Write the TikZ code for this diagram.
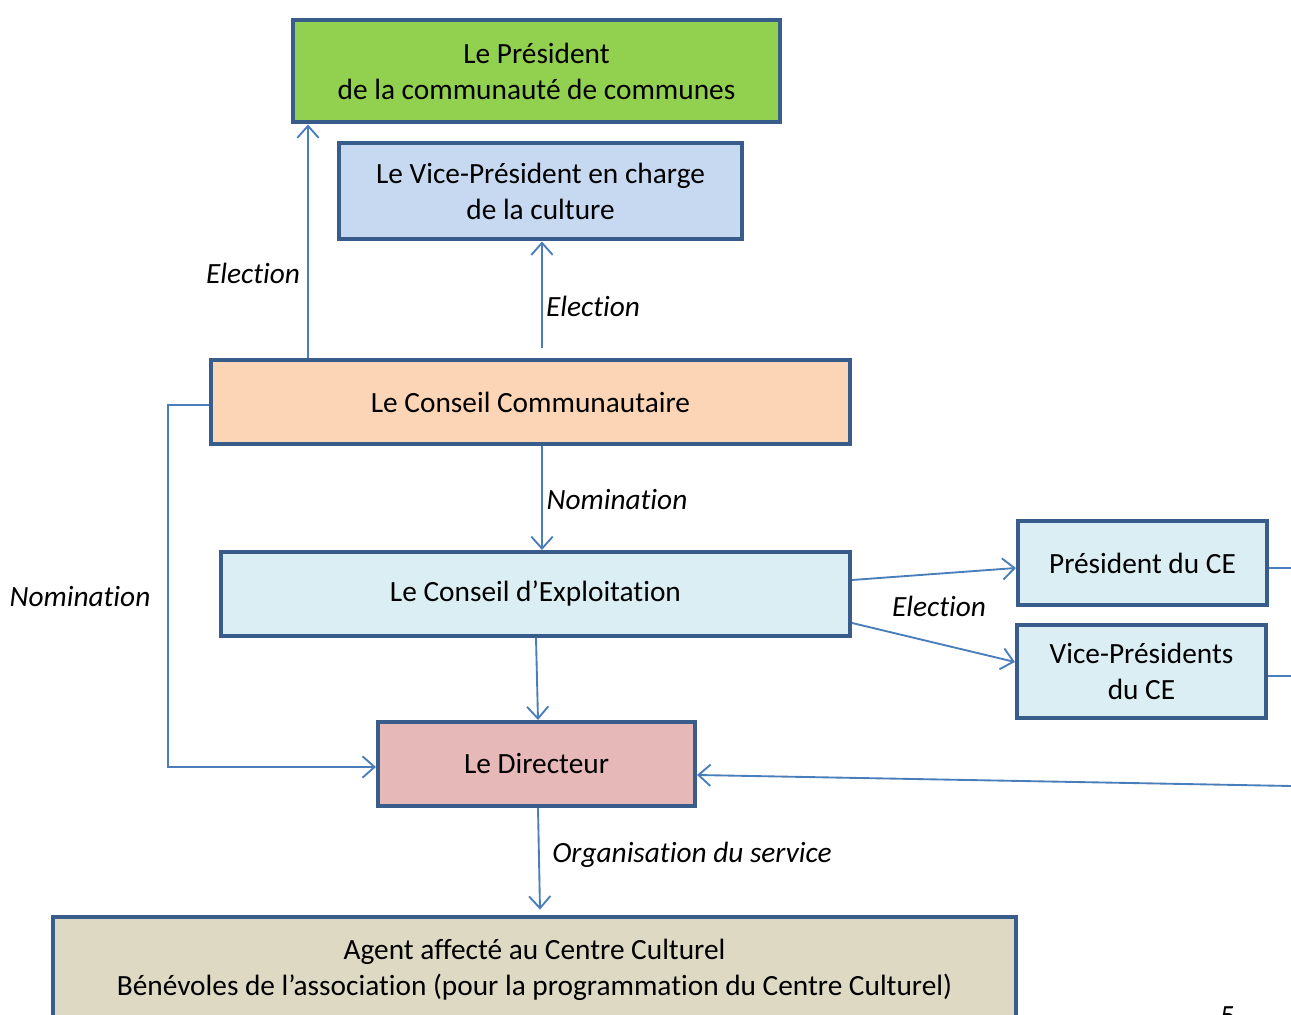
\documentclass[tikz,border=0pt]{standalone}
\usepackage{fontspec}
\setmainfont{Carlito}[Ligatures=NoCommon]
\usetikzlibrary{arrows.meta}

\definecolor{bordure}{HTML}{385D8A}
\definecolor{fleche}{HTML}{4A7EBB}
\definecolor{vert}{HTML}{92D050}
\definecolor{bleuvp}{HTML}{C6D9F1}
\definecolor{saumon}{HTML}{FBD5B5}
\definecolor{bleuce}{HTML}{DAEEF3}
\definecolor{rose}{HTML}{E6B9B8}
\definecolor{beige}{HTML}{DDD9C3}

\tikzstyle{block} = [rectangle, draw=bordure, line width=1.5pt, text centered, inner sep=0pt, align=center, font=\fontsize{11}{13.5}\selectfont]
\tikzstyle{arrow} = [draw=fleche, line width=0.7pt, -{Straight Barb[length=4.5pt, width=8pt]}]
\tikzstyle{line} = [draw=fleche, line width=0.7pt]
\tikzstyle{label} = [font=\fontsize{11}{13.5}\selectfont\itshape, inner sep=0pt]

\begin{document}
\begin{tikzpicture}[x=0.375pt, y=-0.375pt]
    \useasboundingbox (0,0) rectangle (1291,1015);

    \node[block, fill=vert, minimum width=182.6pt, minimum height=38.6pt] (president) at (536.5,71) {Le Président\\de la communauté de communes};
    \node[block, fill=bleuvp, minimum width=151.1pt, minimum height=36pt] (vicepresident) at (540.5,191.5) {Le Vice-Président en charge\\de la culture};
    \node[block, fill=saumon, minimum width=239.6pt, minimum height=31.5pt] (conseilcom) at (530.5,402) {Le Conseil Communautaire};
    \node[block, fill=bleuce, minimum width=235.9pt, minimum height=31.5pt] (conseilexp) at (535.5,594) {Le Conseil d’Exploitation};
    \node[block, fill=bleuce, minimum width=93.4pt, minimum height=31.5pt] (presce) at (1142.5,563) {Président du CE};
    \node[block, fill=bleuce, minimum width=93.4pt, minimum height=34.9pt] (vpce) at (1141.5,671.5) {Vice-Présidents\\du CE};
    \node[block, fill=rose, minimum width=118.9pt, minimum height=31.5pt] (directeur) at (536.5,764) {Le Directeur};
    \node[block, fill=beige, minimum width=361.1pt, minimum height=39.8pt] (agent) at (534.5,970) {Agent affecté au Centre Culturel\\Bénévoles de l’association (pour la programmation du Centre Culturel)};

    % lines
    \coordinate (ccleft) at (168,405);
    \coordinate (ccvp) at (542,348);
    \coordinate (bordpres) at (1291,568);
    \coordinate (bordvp) at (1291,676);
    \coordinate (borddir) at (1291,786);

    \draw [arrow] (conseilcom.north -| 308,0) to (president.south -| 308,0);
    \draw [arrow] (ccvp) to (vicepresident.south -| ccvp);
    \draw [arrow] (conseilcom.south -| 542,0) to (conseilexp.north -| 542,0);
    \draw [arrow] (conseilcom.west |- ccleft) -- (ccleft) |- (directeur.west |- 0,767);
    \draw [arrow] (conseilexp.east |- 0,580) to (presce.west |- 0,568);
    \draw [arrow] (conseilexp.east |- 0,623) to (vpce.west |- 0,662);
    \draw [arrow] (conseilexp.south -| 536,0) to (directeur.north -| 538,0);
    \draw [arrow] (borddir) to (directeur.east |- 0,775);
    \draw [arrow] (directeur.south -| 538,0) to ([yshift=2pt]agent.north -| 540,0);
    \draw [line] (presce.east |- bordpres) -- (bordpres);
    \draw [line] (vpce.east |- bordvp) -- (bordvp);

    % labels
    \node[label] (elecpres) at (253,273) {Election};
    \node[label] (elecvp) at (593,306) {Election};
    \node[label] (nomce) at (617,500) {Nomination};
    \node[label] (nomdir) at (80,597) {Nomination};
    \node[label] (elecce) at (939,606) {Election};
    \node[label] (orga) at (692,855) {Organisation du service};
    \node[inner sep=0pt, anchor=base, font=\fontsize{11}{13.5}\selectfont] (page) at (1228,1026) {5};
\end{tikzpicture}
\end{document}
